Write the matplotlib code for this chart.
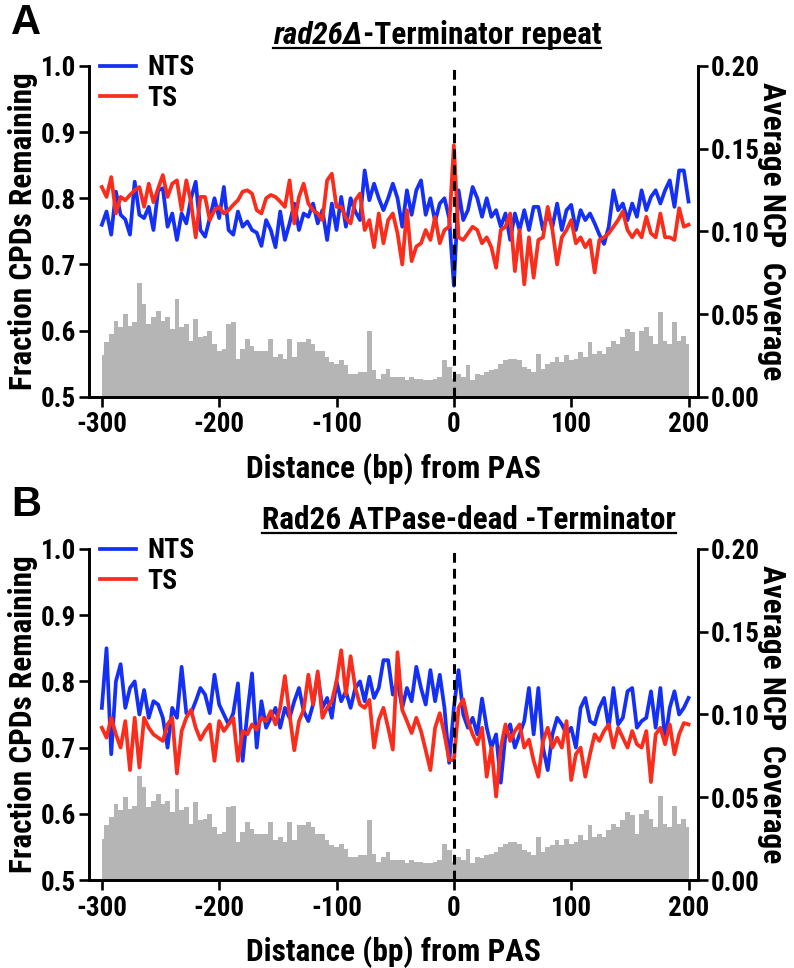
import numpy as np
import matplotlib
matplotlib.use("Agg")
import matplotlib.pyplot as plt
from matplotlib.lines import Line2D
from matplotlib import font_manager as fm

plt.rcParams['axes.unicode_minus'] = False


def pick_narrow():
    names = {f.name for f in fm.fontManager.ttflist}
    for n in ['Liberation Sans Narrow', 'Arial Narrow', 'Roboto Condensed', 'Open Sans Condensed',
              'DejaVu Sans Condensed']:
        if n in names:
            return n, 'normal'
    for f in fm.fontManager.ttflist:
        if f.name == 'DejaVu Sans' and f.stretch == 'condensed':
            return 'DejaVu Sans', 'condensed'
    return 'Liberation Sans', 'normal'


NARROW, STRETCH = pick_narrow()
plt.rcParams['font.family'] = [NARROW, 'Liberation Sans', 'DejaVu Sans']
plt.rcParams['font.weight'] = 'bold'
plt.rcParams['font.stretch'] = STRETCH

# ---------------- data (bp from PAS, 4-bp bins) ----------------
bp = np.arange(-300, 201, 4)

a_nts = [0.760, 0.780, 0.745, 0.810, 0.775, 0.768, 0.745, 0.825, 0.775, 0.770,
         0.787, 0.752, 0.812, 0.815, 0.757, 0.777, 0.737, 0.777, 0.762, 0.800,
         0.825, 0.752, 0.742, 0.770, 0.800, 0.770, 0.817, 0.752, 0.745, 0.780,
         0.757, 0.765, 0.752, 0.748, 0.728, 0.767, 0.752, 0.726, 0.780, 0.737,
         0.762, 0.792, 0.752, 0.777, 0.772, 0.792, 0.762, 0.782, 0.737, 0.792,
         0.752, 0.802, 0.757, 0.800, 0.780, 0.767, 0.842, 0.797, 0.822, 0.800,
         0.782, 0.800, 0.822, 0.800, 0.757, 0.812, 0.775, 0.812, 0.827, 0.775,
         0.800, 0.765, 0.792, 0.800, 0.770, 0.668, 0.812, 0.767, 0.782, 0.817,
         0.800, 0.772, 0.800, 0.772, 0.782, 0.757, 0.777, 0.737, 0.777, 0.752,
         0.782, 0.752, 0.787, 0.787, 0.752, 0.777, 0.757, 0.792, 0.752, 0.782,
         0.790, 0.752, 0.782, 0.767, 0.777, 0.762, 0.745, 0.731, 0.757, 0.812,
         0.782, 0.792, 0.767, 0.792, 0.772, 0.812, 0.782, 0.802, 0.812, 0.792,
         0.812, 0.827, 0.787, 0.842, 0.842, 0.795]

a_ts = [0.817, 0.802, 0.832, 0.777, 0.802, 0.797, 0.805, 0.812, 0.817, 0.787,
        0.822, 0.794, 0.815, 0.835, 0.802, 0.822, 0.827, 0.782, 0.827, 0.794,
        0.741, 0.802, 0.802, 0.767, 0.782, 0.787, 0.777, 0.782, 0.790, 0.797,
        0.810, 0.812, 0.807, 0.782, 0.777, 0.800, 0.805, 0.802, 0.795, 0.787,
        0.827, 0.762, 0.802, 0.822, 0.792, 0.782, 0.777, 0.767, 0.827, 0.837,
        0.787, 0.787, 0.770, 0.762, 0.797, 0.807, 0.752, 0.767, 0.726, 0.777,
        0.732, 0.767, 0.777, 0.747, 0.700, 0.782, 0.705, 0.727, 0.732, 0.752,
        0.737, 0.772, 0.732, 0.752, 0.757, 0.880, 0.741, 0.737, 0.747, 0.757,
        0.752, 0.732, 0.741, 0.726, 0.695, 0.752, 0.757, 0.777, 0.690, 0.752,
        0.670, 0.741, 0.680, 0.737, 0.741, 0.787, 0.752, 0.700, 0.741, 0.752,
        0.767, 0.732, 0.741, 0.726, 0.737, 0.688, 0.737, 0.741, 0.747, 0.757,
        0.767, 0.780, 0.752, 0.741, 0.752, 0.741, 0.772, 0.747, 0.741, 0.777,
        0.741, 0.741, 0.737, 0.785, 0.757, 0.760]

a_ncp = [0.025, 0.033, 0.038, 0.046, 0.042, 0.050, 0.043, 0.045, 0.069, 0.056,
         0.044, 0.048, 0.052, 0.046, 0.048, 0.041, 0.059, 0.042, 0.044, 0.034,
         0.047, 0.036, 0.037, 0.040, 0.032, 0.028, 0.029, 0.044, 0.045, 0.023,
         0.029, 0.035, 0.031, 0.028, 0.028, 0.028, 0.035, 0.024, 0.026, 0.023,
         0.035, 0.024, 0.033, 0.033, 0.035, 0.032, 0.028, 0.028, 0.024, 0.021,
         0.020, 0.022, 0.019, 0.014, 0.014, 0.015, 0.015, 0.040, 0.016, 0.011,
         0.014, 0.017, 0.012, 0.012, 0.012, 0.010, 0.012, 0.011, 0.011, 0.010,
         0.010, 0.011, 0.012, 0.022, 0.018, 0.011, 0.014, 0.012, 0.019, 0.010,
         0.014, 0.013, 0.015, 0.016, 0.017, 0.020, 0.022, 0.023, 0.023, 0.022,
         0.018, 0.017, 0.015, 0.026, 0.017, 0.020, 0.021, 0.024, 0.021, 0.025,
         0.022, 0.023, 0.027, 0.024, 0.033, 0.026, 0.028, 0.026, 0.030, 0.034,
         0.032, 0.036, 0.041, 0.039, 0.028, 0.040, 0.042, 0.037, 0.032, 0.051,
         0.034, 0.032, 0.045, 0.034, 0.037, 0.032]

b_nts = [0.760, 0.850, 0.690, 0.800, 0.826, 0.760, 0.790, 0.800, 0.750, 0.787,
         0.745, 0.770, 0.765, 0.745, 0.700, 0.760, 0.745, 0.822, 0.752, 0.752,
         0.770, 0.790, 0.780, 0.752, 0.810, 0.765, 0.750, 0.735, 0.752, 0.797,
         0.680, 0.752, 0.812, 0.700, 0.770, 0.730, 0.745, 0.760, 0.730, 0.760,
         0.745, 0.770, 0.790, 0.755, 0.740, 0.765, 0.810, 0.760, 0.775, 0.745,
         0.800, 0.770, 0.785, 0.760, 0.790, 0.800, 0.770, 0.807, 0.775, 0.790,
         0.832, 0.832, 0.780, 0.800, 0.760, 0.790, 0.770, 0.822, 0.790, 0.765,
         0.817, 0.770, 0.810, 0.760, 0.677, 0.760, 0.817, 0.750, 0.730, 0.745,
         0.720, 0.774, 0.730, 0.700, 0.720, 0.647, 0.720, 0.735, 0.700, 0.720,
         0.740, 0.790, 0.720, 0.790, 0.700, 0.666, 0.720, 0.745, 0.735, 0.720,
         0.730, 0.700, 0.760, 0.775, 0.740, 0.735, 0.760, 0.775, 0.730, 0.790,
         0.735, 0.745, 0.785, 0.790, 0.730, 0.740, 0.745, 0.785, 0.730, 0.790,
         0.710, 0.760, 0.785, 0.750, 0.760, 0.775]

b_ts = [0.730, 0.715, 0.745, 0.720, 0.700, 0.740, 0.666, 0.745, 0.670, 0.745,
        0.730, 0.720, 0.715, 0.710, 0.735, 0.745, 0.661, 0.725, 0.745, 0.757,
        0.730, 0.712, 0.725, 0.735, 0.680, 0.740, 0.725, 0.735, 0.745, 0.680,
        0.725, 0.720, 0.735, 0.727, 0.745, 0.740, 0.755, 0.735, 0.760, 0.808,
        0.750, 0.696, 0.740, 0.757, 0.810, 0.765, 0.815, 0.745, 0.760, 0.770,
        0.800, 0.847, 0.780, 0.838, 0.790, 0.765, 0.760, 0.772, 0.700, 0.742,
        0.760, 0.730, 0.697, 0.844, 0.757, 0.740, 0.722, 0.745, 0.725, 0.696,
        0.666, 0.730, 0.752, 0.720, 0.681, 0.681, 0.760, 0.773, 0.740, 0.720,
        0.705, 0.730, 0.656, 0.700, 0.626, 0.700, 0.735, 0.710, 0.725, 0.735,
        0.700, 0.712, 0.680, 0.656, 0.710, 0.730, 0.700, 0.715, 0.700, 0.740,
        0.651, 0.690, 0.700, 0.656, 0.690, 0.720, 0.710, 0.725, 0.735, 0.700,
        0.730, 0.715, 0.700, 0.725, 0.705, 0.700, 0.725, 0.648, 0.720, 0.730,
        0.705, 0.735, 0.690, 0.720, 0.737, 0.735]

b_ncp = [0.025, 0.033, 0.038, 0.046, 0.042, 0.050, 0.043, 0.045, 0.063, 0.056,
         0.044, 0.048, 0.052, 0.046, 0.048, 0.041, 0.055, 0.042, 0.044, 0.034,
         0.047, 0.036, 0.037, 0.040, 0.032, 0.028, 0.029, 0.044, 0.045, 0.023,
         0.029, 0.035, 0.031, 0.028, 0.028, 0.028, 0.035, 0.024, 0.026, 0.023,
         0.035, 0.024, 0.033, 0.033, 0.035, 0.032, 0.028, 0.028, 0.024, 0.021,
         0.020, 0.022, 0.019, 0.014, 0.014, 0.015, 0.015, 0.036, 0.016, 0.011,
         0.014, 0.017, 0.012, 0.012, 0.012, 0.010, 0.012, 0.011, 0.011, 0.010,
         0.010, 0.011, 0.012, 0.022, 0.018, 0.011, 0.014, 0.012, 0.019, 0.010,
         0.014, 0.013, 0.015, 0.016, 0.017, 0.020, 0.022, 0.023, 0.023, 0.022,
         0.018, 0.017, 0.015, 0.026, 0.017, 0.020, 0.021, 0.024, 0.021, 0.025,
         0.022, 0.023, 0.027, 0.024, 0.033, 0.026, 0.028, 0.026, 0.030, 0.034,
         0.032, 0.036, 0.041, 0.039, 0.028, 0.040, 0.042, 0.037, 0.032, 0.051,
         0.034, 0.032, 0.045, 0.034, 0.037, 0.032]

xticks = [-300, -200, -100, 0, 100, 200]
yticks_left = [0.5, 0.6, 0.7, 0.8, 0.9, 1.0]
yticks_right = [0.00, 0.05, 0.10, 0.15, 0.20]
yticklabels_right = ['0.00', '0.05', '0.10', '0.15', '0.20']

BLUE = '#1530f5'
RED = '#fa2d1c'
GRAY = '#b5b5b5'
LABEL_FS = 22.5
TICK_FS = 19.5

fig = plt.figure(figsize=(7.94, 9.68), dpi=100)


def panel(rect, nts, ts, ncp):
    ax = fig.add_axes(rect)
    ax2 = ax.twinx()
    ax2.fill_between(bp, 0, ncp, step='mid', color=GRAY, lw=0)
    ax2.set_ylim(0, 0.2)
    ax2.set_yticks(yticks_right)
    ax2.set_yticklabels(yticklabels_right)
    ax.set_zorder(ax2.get_zorder() + 1)
    ax.patch.set_visible(False)
    ax.plot(bp, nts, color=BLUE, lw=2.7, label='NTS')
    ax.plot(bp, ts, color=RED, lw=2.7, label='TS')
    ax.axvline(0, color='black', lw=2.2, ls=(0, (3.2, 2.0)))
    ax.set_xlim(-311, 208)
    ax.set_ylim(0.5, 1.0)
    ax.set_xticks(xticks)
    ax.set_yticks(yticks_left)
    for a in (ax, ax2):
        a.spines['top'].set_visible(False)
        for s in a.spines.values():
            s.set_linewidth(1.9)
        a.tick_params(width=1.9, length=7.5, labelsize=TICK_FS, pad=2)
    ax.tick_params(axis='x', pad=3)
    ax.set_xlabel('Distance (bp) from PAS', fontsize=LABEL_FS, fontweight='bold', labelpad=10.5)
    ax.set_ylabel('Fraction CPDs Remaining', fontsize=LABEL_FS, fontweight='bold', labelpad=2)
    ax2.set_ylabel('Average NCP  Coverage', fontsize=LABEL_FS, fontweight='bold', rotation=270,
                   labelpad=19)
    ax.legend(loc='upper left', bbox_to_anchor=(0.018, 1.035), frameon=False,
              prop={'size': 20, 'weight': 'bold'},
              handlelength=1.3, handletextpad=0.4, labelspacing=0.12, borderaxespad=0.0,
              borderpad=0.0)
    return ax


axA = panel([0.112, 0.590, 0.767, 0.342], a_nts, a_ts, a_ncp)
axB = panel([0.112, 0.0909, 0.767, 0.342], b_nts, b_ts, b_ncp)

fig.text(0.014, 0.976, 'A', fontsize=30, fontweight='bold', va='center',
         family=['Liberation Sans', 'DejaVu Sans'], stretch='normal')
fig.text(0.014, 0.478, 'B', fontsize=30, fontweight='bold', va='center',
         family=['Liberation Sans', 'DejaVu Sans'], stretch='normal')

fig.canvas.draw()
r = fig.canvas.get_renderer()


def underlined_title(parts, xc, yb):
    texts = []
    for s, style in parts:
        texts.append(fig.text(0, yb, s, fontsize=LABEL_FS, fontweight='bold', style=style,
                              ha='left', va='baseline'))
    fig.canvas.draw()
    widths = [t.get_window_extent(r).width / fig.bbox.width for t in texts]
    total = sum(widths)
    x = xc - total / 2
    for t, w in zip(texts, widths):
        t.set_x(x)
        x += w
    yl = yb - 4.0 / fig.bbox.height
    fig.add_artist(Line2D([xc - total / 2, xc + total / 2], [yl, yl], color='black', lw=1.6,
                          transform=fig.transFigure))


underlined_title([('rad26Δ', 'italic'), ('-Terminator repeat', 'normal')], 0.551, 0.9545)
underlined_title([('Rad26 ATPase-dead -Terminator', 'normal')], 0.591, 0.4535)

fig.savefig('out.png', dpi=100)
